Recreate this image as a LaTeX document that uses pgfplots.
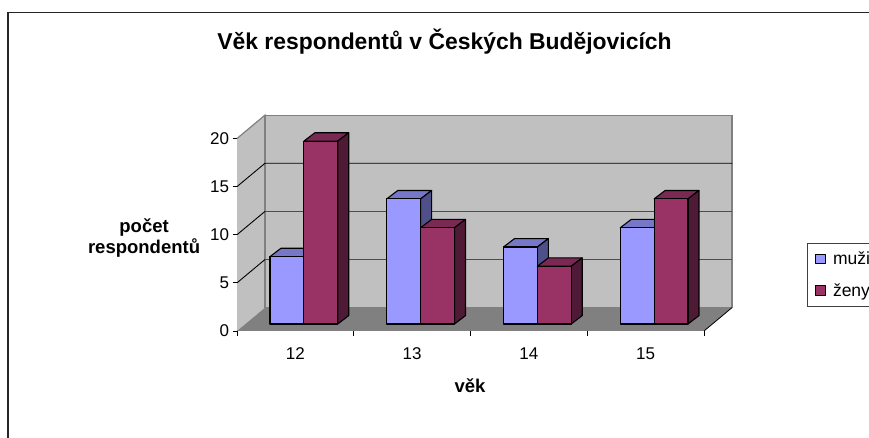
\documentclass[border=0pt]{standalone}
\usepackage{fontspec}
\setmainfont{Liberation Sans}
\usepackage{pgfplots}
\pgfplotsset{compat=1.18}
\definecolor{menF}{HTML}{9999FF}
\definecolor{menT}{HTML}{7777C8}
\definecolor{menS}{HTML}{505088}
\definecolor{womF}{HTML}{993366}
\definecolor{womT}{HTML}{7A2952}
\definecolor{womS}{HTML}{4F1A35}
\definecolor{wall}{HTML}{C0C0C0}
\definecolor{floorc}{HTML}{808080}
\newcommand{\lab}{\fontsize{17}{20}\selectfont}
\tikzset{barface/.style={line width=1.1pt,draw=black,line join=round}}
\begin{document}
\begin{tikzpicture}[x=1pt,y=1pt]
\path[use as bounding box] (0,0) rectangle (869,438);
\clip (0,0) rectangle (869,438);
\draw[line width=1.1pt,black!85] (8,-10) -- (8,425.7) -- (880,425.7);
% walls, floor and axes
\begin{axis}[
  at={(237pt,107pt)},anchor=south west,
  scale only axis,width=467pt,height=192.5pt,
  xmin=0,xmax=4,ymin=0,ymax=20,clip=false,
  axis x line*=bottom,axis y line*=left,
  axis line style={-,line width=1pt,black},
  xtick={0.5,1.5,2.5,3.5},xticklabels={12,13,14,15},
  minor xtick={0,1,2,3,4},
  ytick={0,5,10,15,20},
  major x tick style={draw=none},
  tick style={black,line width=0.9pt},
  major tick length=4.5pt,minor tick length=5pt,
  tick align=outside,
  /pgf/number format/assume math mode=true,
  ticklabel style={font=\lab},
  xticklabel style={yshift=-9pt},
  title={Věk respondentů v Českých Budějovicích},
  title style={at={(axis description cs:0.4443,1.47)},anchor=center,font=\fontsize{22.9}{26}\selectfont\bfseries},
  xlabel={věk},
  xlabel style={at={(axis description cs:0.499,-0.286)},anchor=center,font=\fontsize{18.5}{21}\selectfont\bfseries},
  ylabel={počet\\respondentů},
  ylabel style={at={(axis description cs:-0.199,0.484)},anchor=center,rotate=-90,align=center,font=\fontsize{18.5}{21}\selectfont\bfseries},
]
\addplot[fill=wall,draw=none,forget plot] coordinates {(0,0)(0.24,2.43)(0.24,22.43)(0,20)} --cycle;
\addplot[fill=wall,draw=floorc,line width=1.2pt,forget plot] coordinates {(0.24,2.43)(4.24,2.43)(4.24,22.43)(0.24,22.43)} --cycle;
\addplot[draw=floorc,line width=1.2pt,forget plot] coordinates {(0,20)(0.24,22.43)(0.24,2.43)};
\addplot[fill=floorc,draw=none,forget plot] coordinates {(0,0)(4,0)(4.24,2.43)(0.24,2.43)} --cycle;
\addplot[draw=black,line width=0.8pt,forget plot] coordinates {(4,0)(4.24,2.43)};
\addplot[draw=black,line width=0.9pt,forget plot] coordinates {(0,5)(0.24,7.43)};
\addplot[draw=black!70,line width=1.1pt,forget plot] coordinates {(0.24,7.43)(4.24,7.43)};
\addplot[draw=black,line width=0.9pt,forget plot] coordinates {(0,10)(0.24,12.43)};
\addplot[draw=black!70,line width=1.1pt,forget plot] coordinates {(0.24,12.43)(4.24,12.43)};
\addplot[draw=black,line width=0.9pt,forget plot] coordinates {(0,15)(0.24,17.43)(4.24,17.43)};
\end{axis}
% bars
\begin{axis}[
  at={(245.5pt,114pt)},anchor=south west,
  scale only axis,width=467pt,height=192.5pt,
  xmin=0,xmax=4,ymin=0,ymax=20,clip=false,hide axis,
  legend style={at={(axis description cs:1.203,0.42)},anchor=north west,
    draw=black!75,line width=0.8pt,fill=white,font=\fontsize{17.5}{20}\selectfont,
    inner xsep=7.5pt,inner ysep=8.5pt,row sep=17pt,column sep=7.5pt,
    nodes={text width=55pt,align=left,anchor=west,inner sep=0pt}},
  legend cell align=left,
]
% men: top and side faces
\addplot[barface,fill=menT,forget plot] coordinates {(0.21,7)(0.5,7)(0.594,7.87)(0.304,7.87)} --cycle;
\addplot[barface,fill=menS,forget plot] coordinates {(0.5,0)(0.594,0.87)(0.594,7.87)(0.5,7)} --cycle;
\addplot[barface,fill=menT,forget plot] coordinates {(1.21,13)(1.5,13)(1.594,13.87)(1.304,13.87)} --cycle;
\addplot[barface,fill=menS,forget plot] coordinates {(1.5,0)(1.594,0.87)(1.594,13.87)(1.5,13)} --cycle;
\addplot[barface,fill=menT,forget plot] coordinates {(2.21,8)(2.5,8)(2.594,8.87)(2.304,8.87)} --cycle;
\addplot[barface,fill=menS,forget plot] coordinates {(2.5,0)(2.594,0.87)(2.594,8.87)(2.5,8)} --cycle;
\addplot[barface,fill=menT,forget plot] coordinates {(3.21,10)(3.5,10)(3.594,10.87)(3.304,10.87)} --cycle;
\addplot[barface,fill=menS,forget plot] coordinates {(3.5,0)(3.594,0.87)(3.594,10.87)(3.5,10)} --cycle;
% men: front faces
\addplot[ybar,bar width=0.29,bar shift=-0.145,barface,fill=menF,
  legend image code/.code={\draw[line width=1pt,draw=black,fill=menF] (0pt,-4.7pt) rectangle (9.3pt,4.7pt);}]
  coordinates {(0.5,7)(1.5,13)(2.5,8)(3.5,10)};
\addlegendentry{muži}
% women: top and side faces
\addplot[barface,fill=womT,forget plot] coordinates {(0.5,19)(0.79,19)(0.884,19.87)(0.594,19.87)} --cycle;
\addplot[barface,fill=womS,forget plot] coordinates {(0.79,0)(0.884,0.87)(0.884,19.87)(0.79,19)} --cycle;
\addplot[barface,fill=womT,forget plot] coordinates {(1.5,10)(1.79,10)(1.884,10.87)(1.594,10.87)} --cycle;
\addplot[barface,fill=womS,forget plot] coordinates {(1.79,0)(1.884,0.87)(1.884,10.87)(1.79,10)} --cycle;
\addplot[barface,fill=womT,forget plot] coordinates {(2.5,6)(2.79,6)(2.884,6.87)(2.594,6.87)} --cycle;
\addplot[barface,fill=womS,forget plot] coordinates {(2.79,0)(2.884,0.87)(2.884,6.87)(2.79,6)} --cycle;
\addplot[barface,fill=womT,forget plot] coordinates {(3.5,13)(3.79,13)(3.884,13.87)(3.594,13.87)} --cycle;
\addplot[barface,fill=womS,forget plot] coordinates {(3.79,0)(3.884,0.87)(3.884,13.87)(3.79,13)} --cycle;
% women: front faces
\addplot[ybar,bar width=0.29,bar shift=0.145,barface,fill=womF,
  legend image code/.code={\draw[line width=1pt,draw=black,fill=womF] (0pt,-4.7pt) rectangle (9.3pt,4.7pt);}]
  coordinates {(0.5,19)(1.5,10)(2.5,6)(3.5,13)};
\addlegendentry{ženy}
\end{axis}
\end{tikzpicture}
\end{document}
